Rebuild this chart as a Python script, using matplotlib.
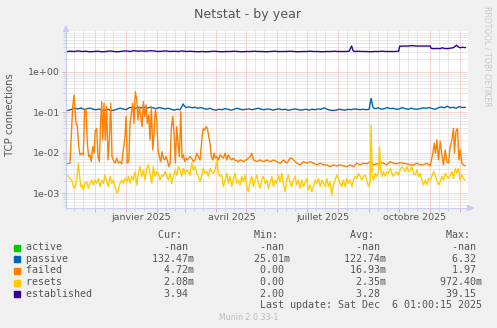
import pandas as pd
import matplotlib
matplotlib.use('Agg')
import matplotlib.pyplot as plt
import matplotlib.dates as mdates
from matplotlib.ticker import FixedLocator, NullFormatter
from matplotlib.patches import Rectangle, Polygon

W, H = 497, 328
start = pd.Timestamp('2024-11-01 17:00')
end = pd.Timestamp('2025-12-08 00:00')

# (days since start, value) for each field, one point every day or two
established = [
    (0, 3.1), (4, 3.2), (8, 3.15), (12, 3.25), (16, 3.15), (20, 3.2), (24, 3.1), (28, 3.15),
    (32, 3.2), (36, 3.1), (40, 3.15), (44, 3.25), (48, 3.15), (52, 3.1), (56, 3.2), (60, 3.25),
    (64, 3.15), (68, 3.3), (72, 3.2), (76, 3.25), (80, 3.2), (84, 3.3), (88, 3.25), (92, 3.15),
    (96, 3.2), (100, 3.25), (104, 3.15), (108, 3.2), (112, 3.15), (116, 3.25), (120, 3.15),
    (124, 3.2), (128, 3.15), (132, 3.1), (136, 3.15), (140, 3.1), (144, 3.15), (148, 3.2),
    (152, 3.15), (156, 3.1), (160, 3.15), (164, 3.15), (168, 3.2), (172, 3.15), (176, 3.1),
    (180, 3.15), (184, 3.15), (188, 3.2), (192, 3.15), (196, 3.15), (200, 3.1), (204, 3.15),
    (208, 3.2), (212, 3.15), (216, 3.15), (220, 3.15), (224, 3.2), (228, 3.15), (232, 3.1),
    (236, 3.15), (240, 3.15), (244, 3.2), (248, 3.15), (252, 3.15), (256, 3.1), (260, 3.15),
    (264, 3.15), (268, 3.2), (272, 3.15), (276, 3.15), (280, 3.15), (283, 3.2), (285.5, 4.3),
    (287, 3.25), (289, 3.15), (292, 3.2), (296, 3.15), (300, 3.15), (304, 3.1), (308, 3.15),
    (312, 3.15), (316, 3.2), (320, 3.15), (324, 3.15), (328, 3.15), (332.5, 3.2), (333.5, 4.25),
    (338, 4.3), (342, 4.3), (346, 4.4), (350, 4.3), (354, 4.3), (358, 4.3), (362, 4.3),
    (364, 4.3), (365, 3.75), (368, 3.7), (371, 3.75), (374, 3.7), (376, 3.9), (378, 3.75),
    (381, 3.7), (384, 3.8), (387, 3.9), (390.5, 4.5), (392, 4.1), (394, 3.9), (396, 4.0),
    (399, 3.94),
]

passive = [
    (0, 0.108), (3, 0.112), (6, 0.118), (9, 0.125), (12, 0.12), (15, 0.128), (18, 0.116),
    (21, 0.122), (24, 0.126), (27, 0.118), (30, 0.115), (33, 0.12), (36, 0.11), (39, 0.112),
    (42, 0.118), (45, 0.108), (48, 0.112), (51, 0.118), (54, 0.125), (57, 0.12), (60, 0.115),
    (63, 0.128), (66, 0.132), (69, 0.125), (72, 0.13), (75, 0.128), (78, 0.135), (81, 0.125),
    (84, 0.132), (87, 0.128), (90, 0.122), (93, 0.13), (96, 0.125), (99, 0.12), (102, 0.125),
    (105, 0.118), (108, 0.112), (111, 0.118), (114, 0.115), (116, 0.14), (117, 0.16),
    (118, 0.145), (120, 0.13), (123, 0.135), (126, 0.128), (129, 0.132), (132, 0.125),
    (135, 0.13), (138, 0.122), (141, 0.118), (144, 0.125), (147, 0.115), (150, 0.112),
    (153, 0.118), (156, 0.115), (159, 0.122), (162, 0.118), (165, 0.112), (168, 0.118),
    (171, 0.125), (174, 0.118), (177, 0.115), (180, 0.118), (183, 0.12), (186, 0.115),
    (189, 0.12), (192, 0.125), (195, 0.118), (198, 0.115), (201, 0.12), (204, 0.118),
    (207, 0.112), (210, 0.118), (213, 0.12), (216, 0.115), (219, 0.118), (222, 0.112),
    (225, 0.115), (228, 0.12), (231, 0.118), (234, 0.112), (237, 0.115), (240, 0.118),
    (243, 0.112), (246, 0.118), (249, 0.115), (252, 0.12), (255, 0.118), (258, 0.128),
    (261, 0.118), (264, 0.112), (267, 0.11), (270, 0.112), (273, 0.118), (276, 0.115),
    (279, 0.112), (282, 0.118), (285, 0.115), (288, 0.12), (291, 0.118), (294, 0.115),
    (297, 0.118), (300, 0.115), (303, 0.118), (305, 0.22), (306, 0.16), (307, 0.13),
    (309, 0.122), (312, 0.128), (315, 0.118), (318, 0.122), (321, 0.13), (324, 0.122),
    (327, 0.125), (330, 0.118), (333, 0.12), (336, 0.13), (339, 0.122), (342, 0.118),
    (345, 0.125), (348, 0.12), (351, 0.118), (354, 0.122), (357, 0.128), (360, 0.125),
    (363, 0.13), (366, 0.122), (369, 0.118), (372, 0.128), (375, 0.135), (378, 0.128),
    (381, 0.14), (384, 0.128), (387, 0.132), (390, 0.125), (393, 0.138), (396, 0.13),
    (399, 0.132),
]

failed = [
    (0.7, 0.0053), (4.0, 0.0055), (6.7, 0.137), (8.0, 0.266), (10.0, 0.053), (11.3, 0.044),
    (12.7, 0.0141), (14.0, 0.0088), (15.7, 0.0097), (17.3, 0.0088), (18.7, 0.113), (20.0, 0.125),
    (21.3, 0.017), (22.7, 0.008), (24.0, 0.0088), (25.3, 0.006), (26.7, 0.0141), (28.0, 0.0097),
    (29.3, 0.036), (30.7, 0.040), (32.0, 0.008), (33.3, 0.006), (34.7, 0.064), (35.7, 0.182),
    (36.7, 0.0206), (38.0, 0.166), (39.3, 0.0206), (40.7, 0.137), (42.0, 0.0066), (43.3, 0.0206),
    (44.7, 0.166), (46.0, 0.008), (47.3, 0.0066), (49.0, 0.0055), (50.7, 0.0073), (52.3, 0.0055),
    (54.0, 0.006), (55.7, 0.0053), (57.3, 0.0117), (59.0, 0.0249), (60.0, 0.078), (61.3, 0.0055),
    (62.7, 0.006), (64.0, 0.053), (65.3, 0.094), (66.7, 0.166), (68.0, 0.053), (69.3, 0.321),
    (70.7, 0.2), (72.0, 0.064), (73.3, 0.137), (74.7, 0.078), (76.0, 0.044), (77.3, 0.182),
    (78.7, 0.078), (80.0, 0.151), (81.3, 0.053), (82.7, 0.085), (84.0, 0.0206), (85.3, 0.137),
    (86.7, 0.0117), (88.0, 0.030), (89.3, 0.113), (90.7, 0.064), (92.0, 0.0117), (93.3, 0.008),
    (94.7, 0.006), (96.0, 0.0106), (97.3, 0.0073), (98.7, 0.0066), (100.0, 0.008), (101.3, 0.0066),
    (102.7, 0.0045), (104.0, 0.0055), (105.3, 0.040), (106.7, 0.078), (108.0, 0.030),
    (109.3, 0.0055), (110.7, 0.044), (112.0, 0.017), (113.3, 0.008), (114.7, 0.103),
    (116.0, 0.0073), (117.3, 0.0088), (118.7, 0.006), (120.0, 0.0073), (121.3, 0.0066),
    (122.7, 0.0073), (124.0, 0.008), (125.7, 0.0073), (127.3, 0.006), (129.0, 0.0066),
    (130.7, 0.0097), (132.3, 0.008), (134.0, 0.0066), (136.0, 0.0249), (137.3, 0.040),
    (138.7, 0.036), (140.0, 0.044), (141.3, 0.040), (142.7, 0.0249), (144.0, 0.017),
    (145.3, 0.008), (146.7, 0.0066), (148.0, 0.0097), (149.3, 0.0073), (150.7, 0.008),
    (152.3, 0.0066), (154.0, 0.0088), (155.7, 0.008), (157.3, 0.0073), (159.0, 0.0097),
    (160.7, 0.0066), (162.3, 0.0088), (164.0, 0.0073), (165.7, 0.0066), (167.3, 0.0073),
    (169.0, 0.0064), (170.7, 0.0064), (172.3, 0.006), (174.0, 0.0066), (175.7, 0.0064),
    (177.3, 0.006), (179.0, 0.0064), (180.7, 0.0068), (182.3, 0.0073), (184.0, 0.008),
    (185.7, 0.0097), (187.3, 0.0066), (190.7, 0.006), (194.0, 0.0066), (197.3, 0.006),
    (200.7, 0.0066), (204.0, 0.006), (207.3, 0.0066), (210.7, 0.006), (214.0, 0.0055),
    (217.3, 0.0066), (220.7, 0.0055), (224.0, 0.0073), (225.7, 0.0073), (227.3, 0.0066),
    (230.7, 0.0055), (234.0, 0.005), (237.3, 0.006), (240.7, 0.0055), (244.0, 0.006),
    (247.3, 0.0055), (250.7, 0.005), (254.0, 0.0055), (257.3, 0.005), (260.7, 0.005),
    (264.0, 0.0045), (267.3, 0.005), (270.7, 0.0047), (274.0, 0.005), (277.3, 0.0047),
    (280.7, 0.0045), (284.0, 0.005), (287.3, 0.0045), (290.7, 0.0055), (294.0, 0.005),
    (297.3, 0.0055), (300.7, 0.0053), (304.0, 0.006), (307.3, 0.005), (310.7, 0.0053),
    (314.0, 0.0057), (317.3, 0.0055), (320.7, 0.005), (324.0, 0.006), (327.3, 0.0055),
    (330.7, 0.0053), (334.0, 0.0057), (337.3, 0.0055), (340.7, 0.0053), (344.0, 0.005),
    (347.3, 0.005), (350.7, 0.0055), (354.0, 0.005), (357.3, 0.005), (360.7, 0.0055),
    (364.0, 0.0047), (366.7, 0.0097), (368.0, 0.017), (369.3, 0.0097), (370.7, 0.0206),
    (372.3, 0.0066), (374.0, 0.019), (375.7, 0.0088), (377.3, 0.005), (379.0, 0.0117),
    (380.7, 0.006), (382.3, 0.0055), (384.0, 0.0141), (385.7, 0.0206), (387.3, 0.040),
    (388.3, 0.0097), (389.7, 0.033), (391.3, 0.040), (392.7, 0.0066), (394.0, 0.0117),
    (395.7, 0.0055), (397.3, 0.005), (399.0, 0.0047),
]

resets = [
    (0.7, 0.0028), (2.3, 0.0026), (4.0, 0.0023), (5.7, 0.0021), (7.3, 0.00145), (9.0, 0.00132),
    (10.7, 0.0021), (12.3, 0.0055), (13.3, 0.0031), (14.7, 0.00145), (16.0, 0.0016),
    (17.3, 0.0012), (19.0, 0.00175), (20.7, 0.0019), (22.3, 0.00132), (24.0, 0.00175),
    (25.7, 0.0021), (27.3, 0.0016), (29.0, 0.0021), (30.7, 0.00175), (32.3, 0.0023),
    (34.0, 0.00145), (35.7, 0.0021), (37.3, 0.00175), (39.0, 0.0028), (40.7, 0.0019),
    (42.3, 0.00145), (44.0, 0.0026), (45.7, 0.00175), (47.3, 0.0021), (49.0, 0.00145),
    (50.7, 0.00099), (52.3, 0.0012), (54.0, 0.00175), (55.7, 0.0021), (57.3, 0.00175),
    (59.0, 0.0023), (60.7, 0.0019), (62.3, 0.0026), (64.0, 0.00175), (65.7, 0.0026),
    (67.3, 0.0021), (69.0, 0.0034), (70.7, 0.0016), (72.3, 0.0031), (74.0, 0.0045),
    (75.7, 0.0026), (77.3, 0.0037), (79.0, 0.0021), (80.7, 0.0041), (82.3, 0.005),
    (84.0, 0.0031), (85.7, 0.00175), (87.3, 0.0045), (89.0, 0.0026), (90.7, 0.0034),
    (92.3, 0.0031), (94.0, 0.0021), (95.7, 0.0028), (97.3, 0.0026), (99.0, 0.0034),
    (100.7, 0.0028), (102.3, 0.0021), (104.0, 0.0031), (105.7, 0.00175), (107.3, 0.0026),
    (109.0, 0.0037), (110.7, 0.0028), (112.3, 0.0045), (114.0, 0.0037), (115.7, 0.0026),
    (117.3, 0.0041), (119.0, 0.0031), (120.7, 0.0037), (122.3, 0.0034), (124.0, 0.0028),
    (125.7, 0.0055), (127.3, 0.0037), (129.0, 0.0045), (130.7, 0.0031), (132.3, 0.0026),
    (134.0, 0.0019), (135.7, 0.0028), (137.3, 0.0041), (139.0, 0.0031), (140.7, 0.0034),
    (142.3, 0.0026), (144.0, 0.0041), (145.7, 0.0034), (147.3, 0.0031), (149.0, 0.0037),
    (150.7, 0.0066), (152.3, 0.0031), (154.0, 0.0026), (155.7, 0.0028), (157.3, 0.00145),
    (159.0, 0.0021), (160.7, 0.0031), (162.3, 0.00175), (164.0, 0.0026), (165.7, 0.00145),
    (167.3, 0.0023), (169.0, 0.0031), (170.7, 0.00175), (172.3, 0.0021), (174.0, 0.0016),
    (175.7, 0.0026), (177.3, 0.0019), (179.0, 0.0028), (180.7, 0.00145), (182.3, 0.00109),
    (184.0, 0.0019), (185.7, 0.0026), (187.3, 0.00145), (189.0, 0.0021), (190.7, 0.0028),
    (192.3, 0.00175), (194.0, 0.00132), (195.7, 0.0021), (197.3, 0.0026), (199.0, 0.00175),
    (200.7, 0.0021), (202.3, 0.00132), (204.0, 0.00175), (205.7, 0.0026), (207.3, 0.00145),
    (209.0, 0.0021), (210.7, 0.00175), (212.3, 0.0028), (214.0, 0.0019), (215.7, 0.0031),
    (217.3, 0.0016), (219.0, 0.00109), (220.7, 0.0021), (222.3, 0.0028), (224.0, 0.00175),
    (225.7, 0.00145), (227.3, 0.0021), (229.0, 0.0026), (230.7, 0.0016), (232.3, 0.0021),
    (234.0, 0.00132), (235.7, 0.0021), (237.3, 0.00145), (239.0, 0.0019), (240.7, 0.0023),
    (242.3, 0.0012), (244.0, 0.0016), (245.7, 0.00109), (247.3, 0.00145), (249.0, 0.0021),
    (250.7, 0.00175), (252.3, 0.0023), (254.0, 0.00145), (255.7, 0.0021), (257.3, 0.00175),
    (259.0, 0.00145), (260.7, 0.0023), (262.3, 0.00145), (264.0, 0.0019), (265.7, 0.0009),
    (267.3, 0.0016), (269.0, 0.0021), (270.7, 0.0028), (272.3, 0.0023), (274.0, 0.00175),
    (275.7, 0.00145), (277.3, 0.0021), (279.0, 0.00145), (280.7, 0.0023), (282.3, 0.00175),
    (284.0, 0.0021), (285.7, 0.00145), (287.3, 0.0021), (289.0, 0.0026), (290.7, 0.0023),
    (292.3, 0.0031), (294.0, 0.0026), (295.7, 0.0021), (297.3, 0.0026), (299.0, 0.0028),
    (300.7, 0.0021), (302.3, 0.00145), (304.0, 0.00175), (305.0, 0.048), (306.0, 0.0026),
    (307.3, 0.0021), (309.0, 0.0031), (310.7, 0.0026), (312.3, 0.0034), (313.3, 0.0141),
    (314.7, 0.0037), (316.0, 0.0026), (317.3, 0.0034), (319.0, 0.0026), (320.7, 0.0034),
    (322.3, 0.0031), (324.0, 0.0041), (325.7, 0.0031), (327.3, 0.0026), (329.0, 0.0031),
    (330.7, 0.0034), (332.3, 0.0028), (334.0, 0.0037), (335.7, 0.0045), (337.3, 0.0041),
    (339.0, 0.0034), (340.7, 0.0045), (342.3, 0.0034), (344.0, 0.0037), (345.7, 0.0045),
    (347.3, 0.0031), (349.0, 0.0028), (350.7, 0.0037), (352.3, 0.0026), (354.0, 0.0031),
    (355.7, 0.0021), (357.3, 0.0016), (359.0, 0.0021), (360.7, 0.0016), (362.3, 0.0023),
    (364.0, 0.0021), (365.7, 0.0026), (367.3, 0.0034), (369.0, 0.0028), (370.7, 0.0021),
    (372.3, 0.0016), (374.0, 0.0019), (375.7, 0.0026), (377.3, 0.0021), (379.0, 0.0031),
    (380.7, 0.0026), (382.3, 0.0023), (384.0, 0.0028), (385.7, 0.0034), (387.3, 0.0023),
    (389.0, 0.0041), (390.7, 0.0031), (392.3, 0.0041), (394.0, 0.0021), (395.7, 0.0028),
    (397.3, 0.0023), (399.0, 0.0021),
]

fields = ['active', 'passive', 'failed', 'resets', 'established']
colors = ['#00CC00', '#0066B3', '#FF8000', '#FFCC00', '#330099']
series = [None, passive, failed, resets, established]
cur = ['-nan', '132.47m', '4.72m', '2.08m', '3.94']
mins = ['-nan', '25.01m', '0.00', '0.00', '2.00']
avgs = ['-nan', '122.74m', '16.93m', '2.35m', '3.28']
maxs = ['-nan', '6.32', '1.97', '972.40m', '39.15']

month_labels = ['janvier 2025', 'avril 2025', 'juillet 2025', 'octobre 2025']
month_label_dates = ['2025-01-16', '2025-04-16', '2025-07-16', '2025-10-16']
ytick_vals = [1e-3, 1e-2, 1e-1, 1]
ytick_labels = ['1e-03', '1e-02', '1e-01', '1e+00']

TEXT = '#555555'
MGRID = '#F4A6A6'
GRID = '#D2D2D2'
AXIS = '#C8CCF2'


def fx(x):
    return x / W


def fy(y):
    return 1 - y / H


fig = plt.figure(figsize=(W / 100, H / 100), dpi=100, facecolor='#F0F0F0')
ax = fig.add_axes([fx(66), fy(208), (467.5 - 66) / W, (208 - 31) / H])
ax.set_facecolor('white')
ax.set_yscale('log')
ax.set_ylim(4.3e-4, 10.1)
ax.set_xlim(start, end)

# grid: red dotted at decades / month starts, grey dotted for the rest
minor_y = [m * 10.0 ** k for k in range(-4, 1) for m in range(2, 10)]
ax.yaxis.set_major_locator(FixedLocator(ytick_vals))
ax.yaxis.set_minor_locator(FixedLocator(minor_y))
ax.set_yticklabels(ytick_labels)
ax.yaxis.set_minor_formatter(NullFormatter())
ax.xaxis.set_major_locator(mdates.MonthLocator())
ax.xaxis.set_minor_locator(mdates.DayLocator(bymonthday=[10, 19]))
ax.xaxis.set_major_formatter(NullFormatter())
ax.xaxis.set_minor_formatter(NullFormatter())

dots = (0, (1, 1))
ax.grid(which='major', color=MGRID, ls=dots, lw=0.72)
ax.grid(which='minor', color=GRID, ls=dots, lw=0.72)
ax.set_axisbelow(True)
ax.tick_params(which='major', length=2.9, width=0.72, color=MGRID, labelsize=6.8,
               labelcolor=TEXT, pad=1.5)
ax.tick_params(which='minor', length=2.2, width=0.72, color=GRID)

for side in ['top', 'right']:
    ax.spines[side].set_visible(False)
for side in ['left', 'bottom']:
    ax.spines[side].set_color(AXIS)
    ax.spines[side].set_linewidth(0.9)

# axis arrows
fig.patches.append(Polygon([(fx(63.5), fy(31.5)), (fx(68.5), fy(31.5)), (fx(66), fy(26))],
                           closed=True, transform=fig.transFigure, color=AXIS))
fig.patches.append(Polygon([(fx(467.5), fy(205.5)), (fx(467.5), fy(210.5)), (fx(473.5), fy(208))],
                           closed=True, transform=fig.transFigure, color=AXIS))

for data, c in zip(series, colors):
    if data is None:
        continue
    days, vals = zip(*data)
    t = start + pd.to_timedelta(list(days), unit='D')
    ax.plot(t, vals, color=c, lw=1.0, solid_joinstyle='round')

for lab, d in zip(month_labels, month_label_dates):
    ax.text(pd.Timestamp(d), (208 - 220.3) / 177, lab, transform=ax.get_xaxis_transform(),
            ha='center', va='baseline', fontsize=6.8, color=TEXT)

fig.text(fx(248), fy(18.3), 'Netstat - by year', ha='center', va='baseline',
         fontsize=9.1, color=TEXT)
fig.text(fx(10.5), fy(115), 'TCP connections', rotation=90, ha='center', va='center',
         fontsize=7.25, color=TEXT)
fig.text(fx(487.5), fy(56.5), 'RRDTOOL / TOBI OETIKER', rotation=270, ha='center',
         va='center', fontsize=5.7, color='#C8C8C8')

# legend table
mono = dict(family='DejaVu Sans Mono', fontsize=7.2, color=TEXT, va='baseline', ha='left')


def cell(v, width):
    if v.endswith('m'):
        return v[:-1].rjust(width) + 'm'
    return v.rjust(width) + ' '


header = ' ' * 22 + 'Cur:' + ' ' * 12 + 'Min:' + ' ' * 12 + 'Avg:' + ' ' * 12 + 'Max:'
fig.text(fx(26.3), fy(238), header, **mono)
for i, name in enumerate(fields):
    base = 250 + i * 11.7
    row = name.ljust(21) + cell(cur[i], 6) + cell(mins[i], 15) + cell(avgs[i], 15) + cell(maxs[i], 15)
    fig.text(fx(26.3), fy(base), row, **mono)
    fig.patches.append(Rectangle((fx(14), fy(base + 0.5)), 6 / W, 6 / H,
                                 transform=fig.transFigure, color=colors[i]))
fig.text(fx(26.3), fy(250 + 5 * 11.7), ' ' * 39 + 'Last update: Sat Dec  6 01:00:15 2025', **mono)
fig.text(fx(248.5), fy(320), 'Munin 2.0.33-1', ha='center', va='baseline',
         fontsize=5.7, color='#BBBBBB')

fig.savefig('out.png', dpi=100, facecolor=fig.get_facecolor())
